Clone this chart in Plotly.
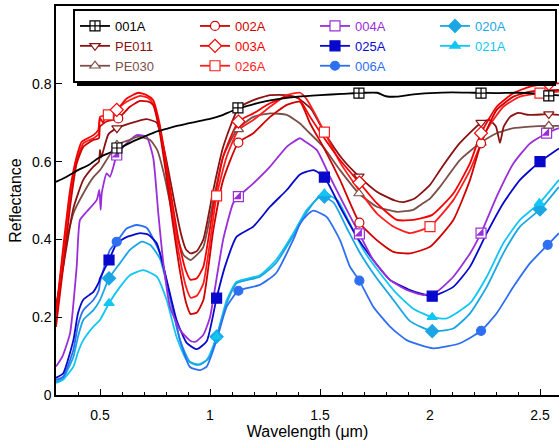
import plotly.graph_objects as go

# ---------------- data (wavelength in um, reflectance) ----------------
s_001A = [(0.30,0.548),(0.33,0.556),(0.36,0.565),(0.40,0.578),(0.45,0.592),(0.50,0.612),(0.55,0.624),
          (0.60,0.638),(0.65,0.652),(0.70,0.664),(0.75,0.676),(0.80,0.684),(0.85,0.692),(0.90,0.698),
          (0.95,0.704),(1.00,0.710),(1.05,0.718),(1.10,0.730),(1.15,0.740),(1.20,0.748),(1.25,0.755),
          (1.30,0.760),(1.40,0.767),(1.50,0.771),(1.60,0.774),(1.70,0.777),(1.76,0.777),(1.80,0.768),
          (1.85,0.767),(1.90,0.771),(1.95,0.774),(2.00,0.776),(2.10,0.778),(2.20,0.777),(2.30,0.776),
          (2.40,0.777),(2.50,0.774),(2.586,0.770)]
m_001A = [(0.577,0.635),(1.127,0.738),(1.677,0.776),(2.232,0.776),(2.54,0.769)]

s_PE011 = [(0.30,0.23),(0.333,0.33),(0.379,0.48),(0.424,0.553),(0.47,0.587),(0.495,0.60),(0.50,0.63),
           (0.505,0.61),(0.538,0.67),(0.577,0.686),(0.636,0.698),(0.712,0.709),(0.758,0.70),(0.78,0.66),
           (0.81,0.58),(0.84,0.49),(0.87,0.41),(0.89,0.375),(0.912,0.364),(0.94,0.37),(0.97,0.40),
           (1.015,0.527),(1.06,0.638),(1.129,0.737),(1.197,0.758),(1.273,0.771),(1.349,0.771),(1.40,0.763),
           (1.46,0.735),(1.52,0.675),(1.60,0.608),(1.677,0.562),(1.76,0.522),(1.84,0.500),(1.88,0.496),
           (1.93,0.505),(2.0,0.54),(2.045,0.578),(2.136,0.648),(2.232,0.70),(2.27,0.707),(2.30,0.69),
           (2.318,0.648),(2.335,0.69),(2.364,0.715),(2.40,0.725),(2.45,0.72),(2.54,0.722),(2.586,0.72)]
m_PE011 = [(0.577,0.686),(1.129,0.737),(1.677,0.562),(2.232,0.70),(2.54,0.722)]

s_PE030 = [(0.30,0.20),(0.333,0.36),(0.379,0.467),(0.424,0.518),(0.47,0.56),(0.50,0.578),(0.577,0.643),
           (0.636,0.656),(0.674,0.664),(0.727,0.656),(0.76,0.63),(0.79,0.57),(0.82,0.49),(0.85,0.41),
           (0.88,0.36),(0.912,0.347),(0.94,0.36),(0.97,0.381),(1.015,0.50),(1.06,0.613),(1.121,0.681),
           (1.197,0.715),(1.273,0.724),(1.349,0.72),(1.409,0.698),(1.439,0.681),(1.515,0.638),(1.591,0.578),
           (1.677,0.518),(1.758,0.484),(1.849,0.471),(1.924,0.476),(1.96,0.49),(2.0,0.505),(2.045,0.535),
           (2.136,0.604),(2.227,0.647),(2.303,0.673),(2.379,0.686),(2.455,0.69),(2.53,0.692),(2.586,0.692)]
m_PE030 = [(0.577,0.643),(1.129,0.683),(1.677,0.518),(2.232,0.648),(2.54,0.692)]

s_002A = [(0.30,0.175),(0.333,0.33),(0.364,0.484),(0.394,0.595),(0.424,0.638),(0.47,0.656),(0.495,0.66),
          (0.50,0.69),(0.53,0.703),(0.583,0.711),(0.636,0.741),(0.682,0.756),(0.72,0.754),(0.742,0.745),
          (0.77,0.68),(0.80,0.57),(0.83,0.445),(0.86,0.33),(0.89,0.24),(0.912,0.208),(0.94,0.212),
          (0.97,0.244),(1.015,0.424),(1.06,0.553),(1.129,0.649),(1.197,0.673),(1.273,0.715),(1.349,0.746),
          (1.409,0.754),(1.455,0.698),(1.515,0.638),(1.591,0.553),(1.679,0.443),(1.758,0.398),(1.833,0.368),
          (1.909,0.364),(2.0,0.381),(2.106,0.45),(2.182,0.553),(2.232,0.647),(2.303,0.733),(2.379,0.767),
          (2.455,0.78),(2.586,0.784)]
m_002A = [(0.583,0.711),(1.129,0.649),(1.679,0.443),(2.232,0.647)]

s_003A = [(0.30,0.21),(0.333,0.381),(0.364,0.527),(0.394,0.613),(0.417,0.651),(0.47,0.668),(0.492,0.681),
          (0.50,0.712),(0.514,0.70),(0.53,0.724),(0.576,0.733),(0.621,0.762),(0.674,0.777),(0.712,0.771),
          (0.742,0.758),(0.77,0.70),(0.80,0.60),(0.83,0.49),(0.86,0.39),(0.89,0.32),(0.912,0.296),
          (0.94,0.30),(0.97,0.33),(1.015,0.484),(1.06,0.613),(1.129,0.703),(1.197,0.724),(1.273,0.75),
          (1.349,0.767),(1.40,0.765),(1.455,0.715),(1.515,0.664),(1.591,0.604),(1.679,0.546),(1.758,0.493),
          (1.849,0.45),(1.924,0.45),(2.01,0.463),(2.106,0.518),(2.182,0.596),(2.232,0.673),(2.303,0.741),
          (2.379,0.776),(2.455,0.793),(2.53,0.80),(2.586,0.801)]
m_003A = [(0.576,0.733),(1.129,0.703),(1.679,0.546),(2.232,0.673),(2.54,0.80)]

s_026A = [(0.30,0.20),(0.333,0.364),(0.364,0.51),(0.394,0.604),(0.424,0.647),(0.47,0.66),(0.495,0.672),
          (0.50,0.715),(0.538,0.72),(0.621,0.754),(0.682,0.769),(0.72,0.763),(0.742,0.748),(0.77,0.69),
          (0.80,0.585),(0.83,0.465),(0.86,0.36),(0.89,0.28),(0.912,0.25),(0.94,0.255),(0.97,0.287),
          (1.03,0.512),(1.076,0.613),(1.129,0.681),(1.197,0.707),(1.273,0.741),(1.349,0.771),(1.409,0.777),
          (1.44,0.76),(1.48,0.72),(1.52,0.676),(1.591,0.598),(1.667,0.535),(1.758,0.467),(1.833,0.433),
          (1.909,0.416),(2.0,0.433),(2.106,0.501),(2.182,0.578),(2.258,0.681),(2.333,0.741),(2.409,0.767),
          (2.5,0.776),(2.586,0.78)]
m_026A = [(0.538,0.72),(1.03,0.512),(1.52,0.676),(2.0,0.433),(2.5,0.776)]

s_004A = [(0.30,0.073),(0.33,0.10),(0.364,0.159),(0.394,0.33),(0.409,0.45),(0.439,0.471),(0.485,0.501),
          (0.497,0.527),(0.503,0.476),(0.508,0.519),(0.53,0.57),(0.545,0.561),(0.561,0.587),(0.576,0.617),
          (0.621,0.647),(0.667,0.668),(0.712,0.664),(0.742,0.61),(0.765,0.467),(0.788,0.339),(0.818,0.227),
          (0.864,0.167),(0.912,0.139),(0.935,0.137),(0.97,0.155),(1.0,0.20),(1.03,0.30),(1.06,0.40),
          (1.105,0.493),(1.129,0.51),(1.197,0.544),(1.273,0.587),(1.349,0.638),(1.409,0.66),(1.424,0.655),
          (1.485,0.63),(1.545,0.561),(1.606,0.493),(1.679,0.414),(1.742,0.347),(1.818,0.296),(1.894,0.27),
          (1.97,0.257),(2.03,0.265),(2.106,0.304),(2.182,0.364),(2.232,0.416),(2.303,0.51),(2.379,0.595),
          (2.455,0.647),(2.53,0.673),(2.586,0.686)]
m_004A = [(0.576,0.617),(1.129,0.51),(1.679,0.414),(2.232,0.416),(2.53,0.673)]

s_025A = [(0.30,0.044),(0.333,0.056),(0.379,0.141),(0.40,0.21),(0.424,0.245),(0.47,0.265),(0.495,0.29),
          (0.50,0.30),(0.541,0.347),(0.576,0.39),(0.621,0.406),(0.682,0.416),(0.72,0.412),(0.758,0.39),
          (0.803,0.296),(0.848,0.193),(0.894,0.134),(0.94,0.118),(0.985,0.138),(1.03,0.249),(1.068,0.33),
          (1.121,0.407),(1.197,0.433),(1.273,0.484),(1.349,0.527),(1.409,0.567),(1.47,0.578),(1.52,0.56),
          (1.591,0.484),(1.667,0.407),(1.742,0.347),(1.818,0.296),(1.909,0.27),(2.01,0.254),(2.106,0.278),
          (2.182,0.33),(2.258,0.416),(2.333,0.493),(2.409,0.553),(2.5,0.60),(2.586,0.634)]
m_025A = [(0.541,0.347),(1.03,0.249),(1.52,0.56),(2.01,0.254),(2.5,0.60)]

s_006A = [(0.30,0.039),(0.333,0.047),(0.379,0.116),(0.40,0.18),(0.424,0.218),(0.47,0.244),(0.495,0.27),
          (0.50,0.29),(0.545,0.373),(0.576,0.394),(0.621,0.428),(0.667,0.437),(0.712,0.43),(0.773,0.364),
          (0.818,0.253),(0.864,0.141),(0.909,0.072),(0.955,0.064),(0.985,0.073),(1.03,0.141),(1.076,0.227),
          (1.129,0.268),(1.227,0.283),(1.30,0.313),(1.379,0.40),(1.409,0.44),(1.44,0.462),(1.47,0.474),
          (1.53,0.458),(1.591,0.398),(1.636,0.33),(1.679,0.294),(1.742,0.227),(1.818,0.176),(1.894,0.141),
          (2.015,0.12),(2.136,0.133),(2.232,0.165),(2.303,0.21),(2.379,0.278),(2.455,0.339),(2.535,0.386),
          (2.586,0.416)]
m_006A = [(0.576,0.394),(1.129,0.268),(1.679,0.294),(2.232,0.165),(2.535,0.386)]

s_020A = [(0.30,0.034),(0.333,0.044),(0.379,0.098),(0.40,0.15),(0.424,0.193),(0.47,0.218),(0.50,0.244),
          (0.541,0.30),(0.591,0.339),(0.636,0.373),(0.69,0.394),(0.73,0.385),(0.773,0.35),(0.818,0.25),
          (0.864,0.14),(0.909,0.085),(0.955,0.078),(1.0,0.098),(1.03,0.15),(1.076,0.236),(1.121,0.287),
          (1.227,0.304),(1.30,0.339),(1.379,0.41),(1.44,0.47),(1.5,0.512),(1.561,0.495),(1.621,0.43),
          (1.682,0.365),(1.758,0.30),(1.833,0.245),(1.909,0.19),(2.01,0.164),(2.106,0.171),(2.182,0.21),
          (2.258,0.278),(2.333,0.364),(2.409,0.433),(2.5,0.477),(2.586,0.535)]
m_020A = [(0.541,0.30),(1.03,0.15),(1.52,0.51),(2.01,0.164),(2.5,0.477)]

s_021A = [(0.30,0.031),(0.333,0.04),(0.379,0.073),(0.40,0.11),(0.424,0.141),(0.47,0.176),(0.50,0.193),
          (0.541,0.236),(0.591,0.278),(0.636,0.308),(0.697,0.321),(0.758,0.304),(0.803,0.244),(0.848,0.149),
          (0.894,0.09),(0.94,0.077),(0.985,0.09),(1.03,0.15),(1.076,0.244),(1.121,0.291),(1.227,0.308),
          (1.30,0.347),(1.379,0.416),(1.44,0.476),(1.52,0.518),(1.58,0.50),(1.636,0.441),(1.697,0.373),
          (1.773,0.313),(1.848,0.261),(1.924,0.222),(2.01,0.20),(2.076,0.197),(2.182,0.236),(2.258,0.304),
          (2.333,0.39),(2.409,0.45),(2.497,0.493),(2.586,0.553)]
m_021A = [(0.541,0.236),(1.03,0.15),(1.52,0.518),(2.01,0.20),(2.497,0.493)]

# legend layout order (row-major, 4 columns)
legend_order = ["001A", "002A", "004A", "020A",
                "PE011", "003A", "025A", "021A",
                "PE030", "026A", "006A"]

# ---------------- styles ----------------
styles = {
    "001A":  dict(data=s_001A,  marks=m_001A,  color="#000000", symbol="square-cross",  fill="white"),
    "PE011": dict(data=s_PE011, marks=m_PE011, color="#8B1212", symbol="triangle-down", fill="white"),
    "PE030": dict(data=s_PE030, marks=m_PE030, color="#7A5048", symbol="triangle-up",   fill="white"),
    "002A":  dict(data=s_002A,  marks=m_002A,  color="#D00000", symbol="circle",        fill="white"),
    "003A":  dict(data=s_003A,  marks=m_003A,  color="#F40000", symbol="diamond",       fill="white"),
    "026A":  dict(data=s_026A,  marks=m_026A,  color="#FF1E1E", symbol="square",        fill="white"),
    "004A":  dict(data=s_004A,  marks=m_004A,  color="#9A2ED8", symbol="square",        fill="white"),
    "025A":  dict(data=s_025A,  marks=m_025A,  color="#0808CC", symbol="square",        fill=None),
    "006A":  dict(data=s_006A,  marks=m_006A,  color="#2E6FF2", symbol="circle",        fill=None),
    "020A":  dict(data=s_020A,  marks=m_020A,  color="#1AA6E4", symbol="diamond",       fill=None),
    "021A":  dict(data=s_021A,  marks=m_021A,  color="#12C6F4", symbol="triangle-up",   fill=None),
}
line_order = ["021A", "020A", "006A", "025A", "004A", "PE030", "PE011", "026A", "002A", "003A", "001A"]
mark_order = ["020A", "021A", "006A", "025A", "004A", "PE030", "PE011", "026A", "002A", "003A", "001A"]

fig = go.Figure()
LW = 1.8
for name in line_order:
    st = styles[name]
    x, y = zip(*st["data"])
    fig.add_trace(go.Scatter(x=x, y=y, mode="lines", showlegend=False, hoverinfo="skip",
                             line=dict(color=st["color"], width=LW, shape="spline", smoothing=0.5)))

for name in mark_order:
    st = styles[name]
    mx, my = zip(*st["marks"])
    xs, ys = [], []
    for a, b in zip(mx, my):
        xs += [a, None]
        ys += [b, None]
    fill = st["fill"] if st["fill"] else st["color"]
    size = 9
    if st["symbol"] in ("square", "square-cross", "diamond"):
        size = 10
    fig.add_trace(go.Scatter(
        x=xs, y=ys, mode="lines+markers",
        name='<span style="color:%s">%s</span>' % (st["color"], name),
        legendrank=legend_order.index(name) + 1,
        line=dict(color=st["color"], width=LW),
        marker=dict(symbol=st["symbol"], size=size, color=fill,
                    line=dict(color=st["color"], width=1.2))))
    if name == "004A":
        fig.add_trace(go.Scatter(x=list(mx), y=list(my), mode="markers", showlegend=False,
                                 hoverinfo="skip",
                                 marker=dict(symbol="triangle-se", size=8.5, color=st["color"],
                                             line=dict(width=0))))

W, H = 559, 443
L, R, T, B = 56, 0, 6, 48
pw, ph = W - L - R, H - T - B

def px2paper(xp, yp):
    return (xp - L) / pw, (H - B - yp) / ph

# legend drop shadow
sx0, sy0 = px2paper(77, 14)
sx1, sy1 = px2paper(556, 86)
fig.add_shape(type="rect", xref="paper", yref="paper", x0=sx0, y0=sy1, x1=sx1, y1=sy0,
              fillcolor="black", line=dict(width=0), layer="above")

lx, ly = px2paper(73, 9)
fig.update_layout(
    width=W, height=H,
    margin=dict(l=L, r=R, t=T, b=B, pad=0),
    paper_bgcolor="white", plot_bgcolor="white",
    font=dict(family="Arial, Liberation Sans, sans-serif", size=14, color="black"),
    showlegend=True,
    legend=dict(orientation="h", x=lx, y=ly, xanchor="left", yanchor="top",
                bgcolor="white", bordercolor="black", borderwidth=2,
                font=dict(size=13), entrywidth=75, entrywidthmode="pixels",
                itemwidth=30, tracegroupgap=0, traceorder="normal"),
    xaxis=dict(range=[0.3, 0.3 + pw / 220.0], showgrid=False, zeroline=False, automargin=False,
               showline=True, linecolor="black", linewidth=1.5, mirror=True,
               ticks="inside", ticklen=6, tickwidth=1, tickcolor="black",
               tickvals=[0.5, 1, 1.5, 2, 2.5], ticktext=["0.5", "1", "1.5", "2", "2.5"],
               tickfont=dict(size=14), ticklabelstandoff=6,
               minor=dict(ticks="inside", ticklen=3, tickwidth=1, tickcolor="black", dtick=0.1, tick0=0),
               title=dict(text="Wavelength (\u03bcm)", font=dict(size=16), standoff=4)),
    yaxis=dict(range=[0, 1], showgrid=False, zeroline=False, automargin=False,
               showline=True, linecolor="black", linewidth=1.5,
               ticks="inside", ticklen=6, tickwidth=1, tickcolor="black",
               tickvals=[0, 0.2, 0.4, 0.6, 0.8, 1], ticktext=["0", "0.2", "0.4", "0.6", "0.8", "1"],
               tickfont=dict(size=14),
               title=dict(text="Reflectance", font=dict(size=16), standoff=6)),
)

fig.write_html("out.html", config={"displayModeBar": False},
               post_script="document.body.style.margin='0px';document.body.style.overflow='hidden';")
